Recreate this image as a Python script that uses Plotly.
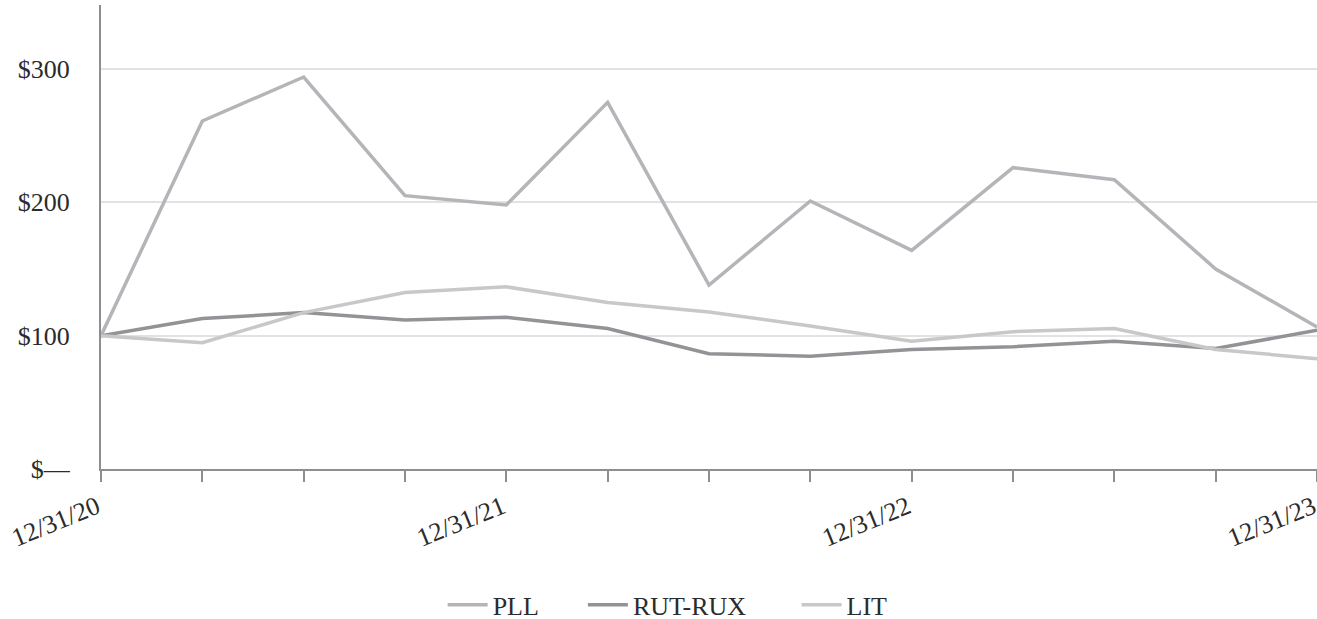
import plotly.graph_objects as go

dates = ["12/31/20", "3/31/21", "6/30/21", "9/30/21", "12/31/21", "3/31/22", "6/30/22",
         "9/30/22", "12/31/22", "3/31/23", "6/30/23", "9/30/23", "12/31/23"]
pll = [100, 261, 294, 205, 198, 275, 138, 201, 164, 226, 217, 150, 106.5]
rut_rux = [100, 112.8, 117.3, 111.8, 113.8, 105.3, 86.4, 84.6, 89.7, 91.7, 95.9, 90.4, 104]
lit = [100, 94.7, 117.3, 132.4, 136.6, 124.9, 117.8, 107.2, 95.9, 103, 105.3, 89.7, 82.7]
shown_labels = ["12/31/20", "12/31/21", "12/31/22", "12/31/23"]
y_ticks = [0, 100, 200, 300]
y_labels = ["$\u2014", "$100", "$200", "$300"]

xs = list(range(len(dates)))
ticktext = [d if d in shown_labels else "" for d in dates]

fig = go.Figure()
series = [("PLL", pll, "#b5b5b9", "\u00a0" * 6), ("RUT-RUX", rut_rux, "#939397", "\u00a0" * 7),
          ("LIT", lit, "#c8c8c9", "")]
for name, vals, col, pad in series:
    fig.add_trace(go.Scatter(x=xs, y=vals, name=name + pad, mode="lines",
                             line=dict(color=col, width=3.5)))

FONT = "Liberation Serif, Times New Roman, serif"
fig.update_layout(
    width=1317, height=619,
    margin=dict(l=101, r=0, t=5, b=150, autoexpand=False),
    plot_bgcolor="white", paper_bgcolor="white",
    font=dict(family=FONT, size=26, color="#2b2b2b"),
    showlegend=True,
    legend=dict(orientation="h", x=0.466, xanchor="center", y=-0.293, yanchor="middle",
                font=dict(family=FONT, size=26, color="#2b2b2b"), itemwidth=40),
    xaxis=dict(range=[0, 12], tickvals=xs, ticktext=ticktext, tickangle=-22,
               showgrid=False, showline=True, linecolor="#8e8e92", linewidth=2,
               ticks="outside", ticklen=11, tickwidth=2, tickcolor="#8e8e92",
               zeroline=False, automargin=False, ticklabeloverflow="allow",
               ticklabelshift=-4, tickfont=dict(family=FONT, size=26)),
    yaxis=dict(range=[0, 348], tickvals=y_ticks, ticktext=y_labels,
               showgrid=True, gridcolor="#e2e2e2", gridwidth=2,
               showline=True, linecolor="#8e8e92", linewidth=2,
               zeroline=False, ticks="", ticklabelstandoff=24, automargin=False,
               tickfont=dict(family=FONT, size=26)),
)

fig.write_html("out.html", config={"displayModeBar": False},
               post_script="document.body.style.margin='0';document.body.style.overflow='hidden';")
